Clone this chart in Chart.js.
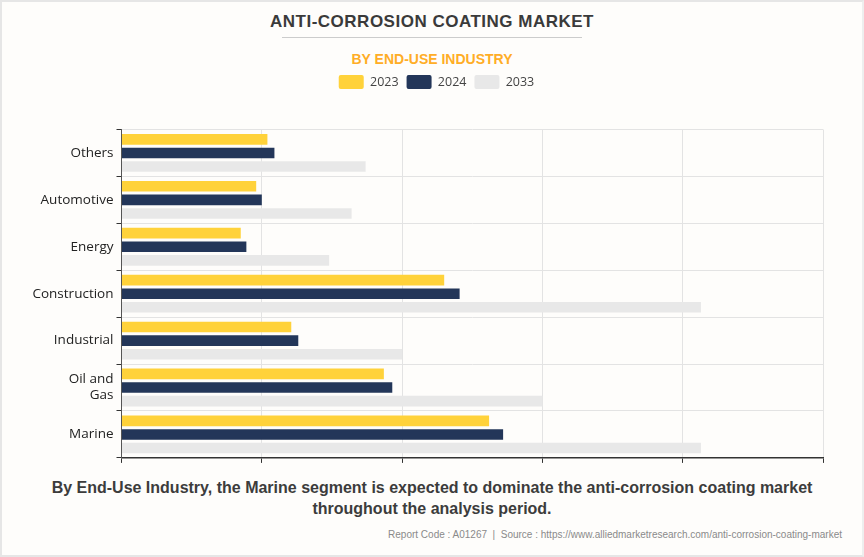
<!DOCTYPE html>
<html>
<head>
<meta charset="utf-8">
<script src="https://cdn.jsdelivr.net/npm/chart.js@4"></script>
<style>
  html, body { margin: 0; padding: 0; background: #fefdfb; }
  #page { position: relative; width: 860px; height: 553px; border: 2px solid #e6e6e6; border-right-color: #eeeeee; overflow: hidden; font-family: "Liberation Sans", Arial, sans-serif; }
  .txt { position: absolute; left: -2px; width: 864px; text-align: center; }
  #title { top: 10px; font-size: 17px; font-weight: bold; color: #3a3a3a; letter-spacing: 0.5px; }
  #rule { position: absolute; left: 280px; top: 35px; width: 300px; height: 1px; background: #cccccc; }
  #sub { top: 49px; font-size: 14px; font-weight: bold; color: #ffad26; }
  #caption { top: 476px; font-size: 16px; line-height: 20.5px; font-weight: bold; color: #3c3c3c; }
  #source { position: absolute; right: 20px; top: 527px; font-size: 10px; color: #8a8a8a; }
  #chart { position: absolute; left: -2px; top: 65px; }
</style>
</head>
<body>
<div id="page">
  <div id="title" class="txt">ANTI-CORROSION COATING MARKET</div>
  <div id="rule"></div>
  <div id="sub" class="txt">BY END-USE INDUSTRY</div>
  <canvas id="chart" width="864" height="402"></canvas>
  <div id="caption" class="txt">By End-Use Industry, the Marine segment is expected to dominate the anti-corrosion coating market<br>throughout the analysis period.</div>
  <div id="source">Report Code : A01267&nbsp; |&nbsp; Source : https://www.alliedmarketresearch.com/anti-corrosion-coating-market</div>
</div>
<script>
const categories = ["Others", "Automotive", "Energy", "Construction", "Industrial", ["Oil and", "Gas"], "Marine"];
const values2023 = [104, 96, 85, 230, 121, 187, 262];
const values2024 = [109, 100, 89, 241, 126, 193, 272];
const values2033 = [174, 164, 148, 413, 200, 300, 413];

// room between legend and plot, and legend nudged right of canvas centre
const legendGap = {
  id: "legendGap",
  beforeInit(chart) {
    const fit = chart.legend.fit;
    chart.legend.fit = function () {
      fit.call(this);
      this.height += 30.5;
    };
  },
  afterLayout(chart) {
    chart.legend.left += 25;
    chart.legend.right += 25;
  }
};

new Chart(document.getElementById("chart"), {
  type: "bar",
  plugins: [legendGap],
  data: {
    labels: categories,
    datasets: [
      { label: "2023", data: values2023, backgroundColor: "#ffd23a" },
      { label: "2024", data: values2024, backgroundColor: "#233659" },
      { label: "2033", data: values2033, backgroundColor: "#e8e8e8" }
    ]
  },
  options: {
    indexAxis: "y",
    responsive: false,
    animation: false,
    categoryPercentage: 0.87,
    barPercentage: 0.78,
    layout: { padding: { left: 0, right: 41, top: 0, bottom: 0 } },
    plugins: {
      tooltip: { enabled: false },
      legend: {
        position: "top",
        labels: {
          boxWidth: 25,
          boxHeight: 14,
          padding: 8,
          useBorderRadius: true,
          borderRadius: 2,
          color: "#444444",
          font: { family: "'Open Sans'", size: 12.5 }
        }
      }
    },
    scales: {
      x: {
        min: 0,
        max: 500,
        ticks: { display: false, stepSize: 100 },
        grid: { color: "#e3e3e3", tickColor: "#333333", tickLength: 5 },
        border: { color: "#333333", width: 1.5 }
      },
      y: {
        afterFit(scale) { scale.width = 121.5; },
        ticks: { color: "#222222", padding: 3, font: { family: "'Open Sans'", size: 13.5 } },
        grid: { color: "#e3e3e3", tickColor: "#333333", tickLength: 5 },
        border: { color: "#555555", width: 1 }
      }
    }
  }
});
</script>
</body>
</html>
